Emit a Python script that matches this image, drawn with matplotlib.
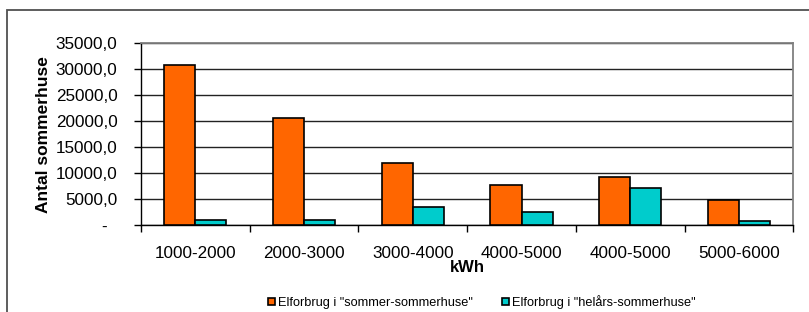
import matplotlib
matplotlib.use("Agg")
import matplotlib.pyplot as plt
from matplotlib.patches import Rectangle
import numpy as np

plt.rcParams['font.family'] = ['Liberation Sans', 'DejaVu Sans']

categories = ["1000-2000", "2000-3000", "3000-4000", "4000-5000", "4000-5000", "5000-6000"]
sommer = [30800, 20700, 12000, 7700, 9200, 4800]
helaars = [960, 950, 3550, 2560, 7180, 770]
series_names = ['Elforbrug i "sommer-sommerhuse"', 'Elforbrug i "helårs-sommerhuse"']
yticks = [0, 5000, 10000, 15000, 20000, 25000, 30000, 35000]

W, H = 809, 312
fig = plt.figure(figsize=(W / 100, H / 100), dpi=100)
fig.patch.set_facecolor("white")

# outer chart frame
fig.patches.append(Rectangle((7 / W, -0.2), 1.2, (H - 10) / H + 0.2, transform=fig.transFigure,
                             fill=False, edgecolor="#505050", linewidth=1.3, zorder=0))

left, right, top, bottom = 141, 793.3, 43.3, 225
ax = fig.add_axes([left / W, 1 - bottom / H, (right - left) / W, (bottom - top) / H])

x = np.arange(len(categories))
w = 1 / 3.5
ax.bar(x - w / 2, sommer, width=w, color="#FF6600", edgecolor="black", linewidth=1.2, zorder=3,
       label=series_names[0])
ax.bar(x + w / 2, helaars, width=w, color="#00CCCC", edgecolor="black", linewidth=1.2, zorder=3,
       label=series_names[1])

ax.set_xlim(-0.5, len(categories) - 0.5)
ax.set_ylim(0, 35000)
ax.set_yticks(yticks)
ax.set_yticklabels(["-  " if v == 0 else f"{v:.1f}".replace(".", ",") for v in yticks], fontsize=12.3)
ax.yaxis.grid(True, color="#222222", linewidth=1.0, zorder=1)
ax.set_axisbelow(True)

ax.set_xticks(x)
ax.set_xticklabels(categories, fontsize=12.3)
ax.set_xticks(np.arange(-0.5, len(categories)), minor=True)
ax.tick_params(axis="x", which="major", length=0, pad=15)
ax.tick_params(axis="x", which="minor", length=5, width=1, direction="out", color="black")
ax.tick_params(axis="y", length=5, width=1, pad=12, color="black")

ax.spines["left"].set_color("black")
ax.spines["bottom"].set_color("black")
ax.spines["left"].set_linewidth(1.0)
ax.spines["bottom"].set_linewidth(1.0)
ax.spines["top"].set_color("#808080")
ax.spines["right"].set_color("#808080")
ax.spines["top"].set_linewidth(1.3)
ax.spines["right"].set_linewidth(1.3)

fig.text(44 / W, 1 - 135 / H, "Antal sommerhuse", rotation=90, ha="center", va="center",
         fontsize=12.5, fontweight="bold")
fig.text((left + right) / 2 / W, 1 - 267 / H, "kWh", ha="center", va="center",
         fontsize=12, fontweight="bold")

leg = fig.legend(loc="center", bbox_to_anchor=(482 / W, 1 - 302 / H), ncol=2, frameon=False,
                 fontsize=9.2, handlelength=0.55, handleheight=0.55, handletextpad=0.2,
                 columnspacing=2.3, borderaxespad=0, borderpad=0)

fig.savefig("out.png", dpi=100)
